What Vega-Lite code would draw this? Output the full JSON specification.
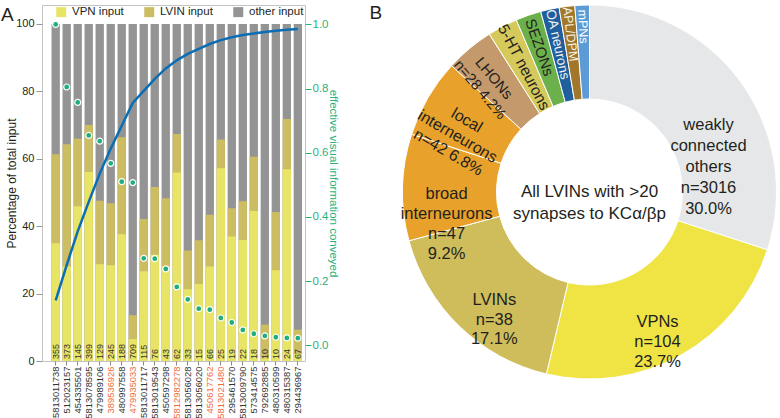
{
  "$schema": "https://vega.github.io/schema/vega-lite/v6.json",
  "padding": {"left": 0, "top": 3, "right": 0, "bottom": 0},
  "background": "white",
  "config": {
    "font": "Liberation Sans",
    "view": {"stroke": null},
    "axis": {"domain": false, "grid": false, "labelFont": "Liberation Sans", "titleFont": "Liberation Sans", "titleFontWeight": "normal"},
    "title": {"font": "Liberation Sans"},
    "legend": {"labelFont": "Liberation Sans"}
  },
  "spacing": 97.5,
  "bounds": "flush",
  "resolve": {"scale": {"color": "independent", "x": "independent", "y": "independent"}, "legend": {"color": "independent"}},
  "hconcat": [
    {
      "width": 263,
      "height": 356,
      "view": {"stroke": "#c4c4c4", "strokeWidth": 1},
      "title": {"text": "A", "anchor": "start", "frame": "group", "fontSize": 19, "fontWeight": "normal", "baseline": "top", "offset": 0, "dx": -41, "dy": 20, "color": "#231f20"},
      "data": {"values": [
        {"id": "5813011738", "n": 355, "vpn": 34.9, "lvinTop": 61.3, "info": 1.0, "cum": 0.14},
        {"id": "512023157", "n": 373, "vpn": 28.0, "lvinTop": 64.3, "info": 0.805, "cum": 0.25},
        {"id": "454335501", "n": 145, "vpn": 45.9, "lvinTop": 65.9, "info": 0.757, "cum": 0.355},
        {"id": "5813078595", "n": 399, "vpn": 56.1, "lvinTop": 70.0, "info": 0.654, "cum": 0.447},
        {"id": "479989106", "n": 129, "vpn": 28.7, "lvinTop": 47.5, "info": 0.636, "cum": 0.535},
        {"id": "389536926", "n": 245, "vpn": 28.4, "lvinTop": 46.8, "info": 0.567, "cum": 0.613},
        {"id": "480997558", "n": 188, "vpn": 37.6, "lvinTop": 66.4, "info": 0.51, "cum": 0.684},
        {"id": "479935033", "n": 709, "vpn": 6.5, "lvinTop": 13.6, "info": 0.507, "cum": 0.755},
        {"id": "5813011717", "n": 115, "vpn": 26.6, "lvinTop": 42.1, "info": 0.271, "cum": 0.793},
        {"id": "5813019543", "n": 76, "vpn": 31.5, "lvinTop": 51.6, "info": 0.27, "cum": 0.83},
        {"id": "450597298", "n": 43, "vpn": 28.0, "lvinTop": 48.3, "info": 0.238, "cum": 0.863},
        {"id": "5812982278", "n": 62, "vpn": 55.9, "lvinTop": 67.3, "info": 0.182, "cum": 0.888},
        {"id": "5813056028", "n": 33, "vpn": 21.3, "lvinTop": 32.8, "info": 0.143, "cum": 0.908},
        {"id": "5813056020", "n": 15, "vpn": 22.8, "lvinTop": 35.8, "info": 0.114, "cum": 0.924},
        {"id": "450617762", "n": 66, "vpn": 28.0, "lvinTop": 43.4, "info": 0.111, "cum": 0.939},
        {"id": "5813021480", "n": 25, "vpn": 57.2, "lvinTop": 65.7, "info": 0.085, "cum": 0.951},
        {"id": "295461570", "n": 19, "vpn": 36.9, "lvinTop": 45.3, "info": 0.071, "cum": 0.96},
        {"id": "5813009790", "n": 22, "vpn": 35.9, "lvinTop": 47.4, "info": 0.048, "cum": 0.967},
        {"id": "573414575", "n": 18, "vpn": 44.5, "lvinTop": 60.6, "info": 0.036, "cum": 0.972},
        {"id": "792692885", "n": 10, "vpn": 0.8, "lvinTop": 10.8, "info": 0.029, "cum": 0.976},
        {"id": "480310599", "n": 10, "vpn": 26.9, "lvinTop": 44.2, "info": 0.025, "cum": 0.98},
        {"id": "480315387", "n": 24, "vpn": 56.9, "lvinTop": 71.8, "info": 0.023, "cum": 0.983},
        {"id": "294436967", "n": 67, "vpn": 2.0, "lvinTop": 9.3, "info": 0.022, "cum": 0.986}
      ]},
      "encoding": {
        "x": {
          "field": "id", "type": "ordinal", "sort": null,
          "scale": {"paddingInner": 0.245, "paddingOuter": 0.57, "align": 0.76},
          "axis": {
            "title": null, "labelAngle": 270, "labelFontSize": 9.4, "tickSize": 4, "tickColor": "#888888",
            "labelPadding": 1, "labelOverlap": false, "domain": false,
            "labelColor": {"condition": {"test": "indexof(['389536926','479935033','5812982278','450617762','5813021480'], datum.value) >= 0", "value": "#f26b3c"}, "value": "#333333"}
          }
        }
      },
      "layer": [
        {
          "layer": [
            {
              "mark": {"type": "bar"},
              "encoding": {
                "y": {"datum": 100, "type": "quantitative", "scale": {"domain": [0, 105.6], "nice": false},
                  "axis": {"title": "Percentage of total input", "values": [0, 20, 40, 60, 80, 100], "tickSize": 6, "tickColor": "#999999",
                    "labelFontSize": 11, "labelColor": "#231f20", "titleFontSize": 12, "titleColor": "#231f20", "labelPadding": 2, "titlePadding": -3}},
                "color": {"datum": "other input", "type": "nominal",
                  "scale": {"domain": ["VPN input", "LVIN input", "other input"], "range": ["#e8e566", "#ccbc62", "#949494"]},
                  "legend": {"orient": "none", "legendX": 13.5, "legendY": 1, "direction": "horizontal", "title": null,
                    "symbolType": "square", "symbolSize": 100, "symbolStrokeWidth": 0, "labelFontSize": 11.5, "labelColor": "#231f20",
                    "columnPadding": 19, "labelOffset": 5}}
              }
            },
            {
              "mark": {"type": "bar"},
              "encoding": {
                "y": {"field": "lvinTop", "type": "quantitative", "scale": {"domain": [0, 105.6], "nice": false}},
                "color": {"datum": "LVIN input", "type": "nominal"}
              }
            },
            {
              "mark": {"type": "bar"},
              "encoding": {
                "y": {"field": "vpn", "type": "quantitative", "scale": {"domain": [0, 105.6], "nice": false}},
                "color": {"datum": "VPN input", "type": "nominal"}
              }
            },
            {
              "mark": {"type": "text", "angle": 270, "align": "left", "baseline": "middle", "fontSize": 9, "dx": 2, "color": "#333333"},
              "encoding": {
                "y": {"datum": 0, "type": "quantitative", "scale": {"domain": [0, 105.6], "nice": false}},
                "text": {"field": "n", "type": "nominal"}
              }
            }
          ]
        },
        {
          "layer": [
            {
              "mark": {"type": "line", "color": "#0b6db3", "strokeWidth": 2.5},
              "encoding": {
                "y": {"field": "cum", "type": "quantitative", "scale": {"domain": [-0.049, 1.0605], "nice": false, "zero": false},
                  "axis": {"orient": "right", "title": "effective visual information conveyed", "values": [0, 0.2, 0.4, 0.6, 0.8, 1.0], "format": ".1f",
                    "tickSize": 6, "tickColor": "#2bb07e", "labelColor": "#2bb07e", "titleColor": "#2bb07e",
                    "labelFontSize": 11.5, "titleFontSize": 11.5, "labelPadding": 1, "titlePadding": 0}}
              }
            },
            {
              "mark": {"type": "point", "filled": true, "fill": "#20ae7b", "stroke": "white", "strokeWidth": 1.2, "size": 36, "opacity": 1},
              "encoding": {
                "y": {"field": "info", "type": "quantitative", "scale": {"domain": [-0.049, 1.0605], "nice": false, "zero": false}}
              }
            }
          ]
        }
      ],
      "resolve": {"scale": {"y": "independent"}}
    },
    {
      "width": 374,
      "height": 374,
      "view": {"stroke": null},
      "title": {"text": "B", "anchor": "start", "frame": "group", "fontSize": 19, "fontWeight": "normal", "baseline": "top", "offset": 0, "dx": -33, "dy": 20, "color": "#231f20"},
      "data": {"values": [
        {"name": "weakly connected others", "pct": 30.0, "label": "weakly\nconnected\nothers\nn=3016\n30.0%"},
        {"name": "VPNs", "pct": 23.7, "label": "VPNs\nn=104\n23.7%"},
        {"name": "LVINs", "pct": 17.1, "label": "LVINs\nn=38\n17.1%"},
        {"name": "broad interneurons", "pct": 9.2, "label": "broad\ninterneurons\nn=47\n9.2%"},
        {"name": "local interneurons", "pct": 6.8, "label": "local\ninterneurons\nn=42   6.8%"},
        {"name": "LHONs", "pct": 4.2, "label": "LHONs\nn=28  4.2%"},
        {"name": "5-HT neurons", "pct": 2.6, "label": "5-HT neurons"},
        {"name": "SEZONs", "pct": 2.2, "label": "SEZONs"},
        {"name": "OA neurons", "pct": 1.6, "label": "OA neurons"},
        {"name": "APL/DPM", "pct": 1.35, "label": "APL/DPM"},
        {"name": "mPNs", "pct": 1.25, "label": "mPNs"}
      ]},
      "encoding": {
        "theta": {"field": "pct", "type": "quantitative", "stack": true},
        "order": {"field": "pct", "sort": "descending"}
      },
      "layer": [
        {
          "mark": {"type": "arc", "innerRadius": 93, "outerRadius": 187, "stroke": "white", "strokeWidth": 1},
          "encoding": {
            "color": {"field": "name", "type": "nominal", "legend": null,
              "scale": {"domain": ["weakly connected others", "VPNs", "LVINs", "broad interneurons", "local interneurons", "LHONs", "5-HT neurons", "SEZONs", "OA neurons", "APL/DPM", "mPNs"],
                "range": ["#e6e7e8", "#f0e445", "#cfbd5b", "#e8a12a", "#e8a12a", "#c4996b", "#d6c95c", "#6cb04b", "#1f5f9e", "#a1782b", "#5c9bd6"]}}
          }
        },
        {
          "mark": {"type": "text", "radius": 136, "fontSize": 16.5, "lineHeight": 21, "lineBreak": "\n", "align": "center", "baseline": "middle", "color": "#231f20", "dx": 9, "dy": 12.7},
          "encoding": {"text": {"condition": {"test": "datum.name === 'weakly connected others'", "field": "label", "type": "nominal"}, "value": ""}}
        },
        {
          "mark": {"type": "text", "radius": 146, "fontSize": 16.5, "lineHeight": 20, "lineBreak": "\n", "align": "center", "baseline": "middle", "color": "#231f20", "dx": -3.5, "dy": 2.4},
          "encoding": {"text": {"condition": {"test": "datum.name === 'VPNs'", "field": "label", "type": "nominal"}, "value": ""}}
        },
        {
          "mark": {"type": "text", "radius": 144, "fontSize": 16.5, "lineHeight": 19.5, "lineBreak": "\n", "align": "center", "baseline": "middle", "color": "#231f20", "dx": 5, "dy": 5},
          "encoding": {"text": {"condition": {"test": "datum.name === 'LVINs'", "field": "label", "type": "nominal"}, "value": ""}}
        },
        {
          "mark": {"type": "text", "radius": 143, "fontSize": 16.5, "lineHeight": 20, "lineBreak": "\n", "align": "center", "baseline": "middle", "color": "#231f20", "dx": 0, "dy": 5.8},
          "encoding": {"text": {"condition": {"test": "datum.name === 'broad interneurons'", "field": "label", "type": "nominal"}, "value": ""}}
        },
        {
          "mark": {"type": "text", "radius": 142, "angle": 30.2, "fontSize": 16, "lineHeight": 18.5, "lineBreak": "\n", "align": "center", "baseline": "middle", "color": "#231f20"},
          "encoding": {"text": {"condition": {"test": "datum.name === 'local interneurons'", "field": "label", "type": "nominal"}, "value": ""}}
        },
        {
          "mark": {"type": "text", "radius": 148.5, "angle": 50, "fontSize": 15, "lineHeight": 18, "lineBreak": "\n", "align": "center", "baseline": "middle", "color": "#231f20"},
          "encoding": {"text": {"condition": {"test": "datum.name === 'LHONs'", "field": "label", "type": "nominal"}, "value": ""}}
        },
        {
          "mark": {"type": "text", "radius": 141, "angle": 62.3, "fontSize": 15.5, "align": "center", "baseline": "middle", "color": "#231f20"},
          "encoding": {"text": {"condition": {"test": "datum.name === '5-HT neurons'", "field": "label", "type": "nominal"}, "value": ""}}
        },
        {
          "mark": {"type": "text", "radius": 153, "angle": 70.9, "fontSize": 15, "align": "center", "baseline": "middle", "color": "#231f20"},
          "encoding": {"text": {"condition": {"test": "datum.name === 'SEZONs'", "field": "label", "type": "nominal"}, "value": ""}}
        },
        {
          "mark": {"type": "text", "radius": 151, "angle": 77.8, "fontSize": 13.5, "align": "center", "baseline": "middle", "color": "#f2f2f2"},
          "encoding": {"text": {"condition": {"test": "datum.name === 'OA neurons'", "field": "label", "type": "nominal"}, "value": ""}}
        },
        {
          "mark": {"type": "text", "radius": 159, "angle": 83, "fontSize": 12.5, "align": "center", "baseline": "middle", "color": "#f6f1e4"},
          "encoding": {"text": {"condition": {"test": "datum.name === 'APL/DPM'", "field": "label", "type": "nominal"}, "value": ""}}
        },
        {
          "mark": {"type": "text", "radius": 165.5, "angle": 87.7, "fontSize": 12.5, "align": "center", "baseline": "middle", "color": "#ffffff"},
          "encoding": {"text": {"condition": {"test": "datum.name === 'mPNs'", "field": "label", "type": "nominal"}, "value": ""}}
        },
        {
          "data": {"values": [{"t": "All LVINs with >20\nsynapses to KCα/βp"}]},
          "mark": {"type": "text", "radius": 0, "fontSize": 17, "lineHeight": 21.5, "lineBreak": "\n", "align": "center", "baseline": "middle", "color": "#231f20"},
          "encoding": {
            "theta": {"value": 0},
            "order": null,
            "text": {"field": "t", "type": "nominal"}
          }
        }
      ]
    }
  ]
}
